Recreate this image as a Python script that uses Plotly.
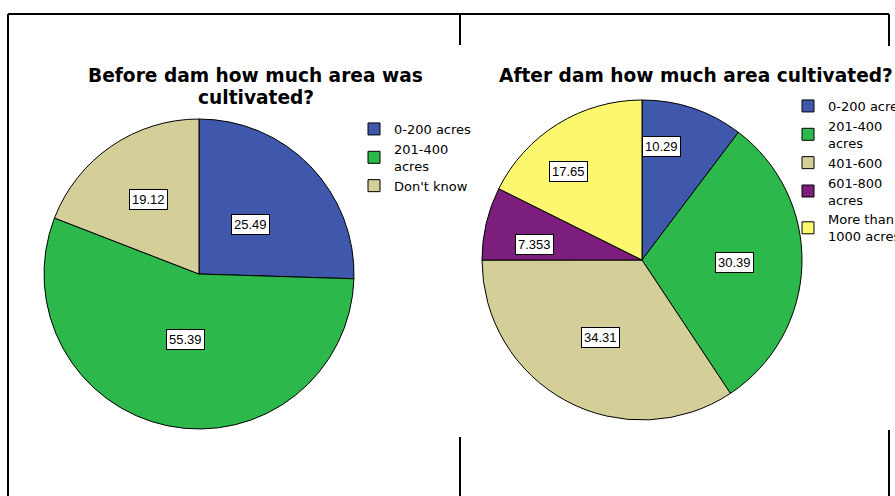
import math
import plotly.graph_objects as go

# ---- data ----
before_labels = ["0-200 acres", "201-400<br>acres", "Don't know"]
before_values = [25.49, 55.39, 19.12]
before_text = ["25.49", "55.39", "19.12"]

after_labels = ["0-200 acres", "201-400<br>acres", "401-600", "601-800<br>acres", "More than<br>1000 acres"]
after_values = [10.29, 30.39, 34.31, 7.353, 17.65]
after_text = ["10.29", "30.39", "34.31", "7.353", "17.65"]

before_title_lines = ["Before dam how much area was", "cultivated?"]
after_title_lines = ["After dam how much area cultivated?"]

# ---- style ----
W, H = 895, 496
C_BLUE = "#3F58AB"
C_GREEN = "#2DB84B"
C_TAN = "#D4CF98"
C_PURPLE = "#7C1F7C"
C_YELLOW = "#FBF86F"
before_colors = [C_BLUE, C_GREEN, C_TAN]
after_colors = [C_BLUE, C_GREEN, C_TAN, C_PURPLE, C_YELLOW]
FONT = "Liberation Sans, Arial, sans-serif"
WIDE_FONT = "DejaVu Sans, sans-serif"


def fx(px):
    return px / W


def fy(py):
    return 1 - py / H


# pie geometry (screen pixels): centre and radius
P1 = dict(cx=199, cy=274, r=155)
P2 = dict(cx=642, cy=260, r=160)
# value-box placement: radius fraction and angular nudge (degrees) from slice mid-angle
before_label_r = [0.46, 0.43, 0.58]
before_label_turn = [0, 0, 0]
after_label_r = [0.72, 0.58, 0.55, 0.68, 0.72]
after_label_turn = [-9, 0, 0, -5, -8]


def domain(p):
    return dict(x=[fx(p["cx"] - p["r"]), fx(p["cx"] + p["r"])],
                y=[fy(p["cy"] + p["r"]), fy(p["cy"] - p["r"])])


def value_boxes(p, values, texts, fracs, turns):
    total = sum(values)
    anns = []
    cum = 0.0
    for v, t, f, d in zip(values, texts, fracs, turns):
        th = 2 * math.pi * (cum + v / 2) / total + math.radians(d)
        cum += v
        px = p["cx"] + f * p["r"] * math.sin(th)
        py = p["cy"] - f * p["r"] * math.cos(th)
        anns.append(dict(x=fx(px), y=fy(py), xref="paper", yref="paper",
                         xanchor="center", yanchor="middle",
                         text=t, showarrow=False,
                         font=dict(family=FONT, size=13, color="black"),
                         bgcolor="white", bordercolor="black", borderwidth=1,
                         borderpad=2))
    return anns


# pie legend entries are shared by label across pies; a zero-width mark keeps
# the second legend's entries separate
after_legend_labels = [lab + "\u200b" for lab in after_labels]

fig = go.Figure()
fig.add_trace(go.Pie(labels=before_labels, values=before_values, sort=False,
                     direction="clockwise", rotation=0, textinfo="none",
                     marker=dict(colors=before_colors, line=dict(color="black", width=1)),
                     domain=domain(P1), legend="legend", hoverinfo="label+value"))
fig.add_trace(go.Pie(labels=after_legend_labels, values=after_values, sort=False,
                     direction="clockwise", rotation=0, textinfo="none",
                     marker=dict(colors=after_colors, line=dict(color="black", width=1)),
                     domain=domain(P2), legend="legend2", hoverinfo="label+value"))

anns = value_boxes(P1, before_values, before_text, before_label_r, before_label_turn)
anns += value_boxes(P2, after_values, after_text, after_label_r, after_label_turn)
title_font = dict(family=WIDE_FONT, size=18.6, color="black")
for i, t in enumerate(before_title_lines):
    anns.append(dict(x=fx(256), y=fy(75 + 23 * i), xref="paper", yref="paper", text="<b>" + t + "</b>",
                     showarrow=False, font=title_font, xanchor="center", yanchor="middle"))
for i, t in enumerate(after_title_lines):
    anns.append(dict(x=fx(696), y=fy(75 + 23 * i), xref="paper", yref="paper", text="<b>" + t + "</b>",
                     showarrow=False, font=title_font, xanchor="center", yanchor="middle"))

line = dict(color="black", width=2)
segments = [  # (x0, y0, x1, y1) in screen pixels
    (8, 14, 889, 14),
    (8, 14, 8, 496),
    (460, 14, 460, 45),
    (460, 437, 460, 496),
    (889, 14, 889, 46),
    (889, 430, 889, 496),
]
shapes = [dict(type="line", xref="paper", yref="paper", x0=fx(a), y0=fy(b), x1=fx(c), y1=fy(d),
               line=line) for a, b, c, d in segments]

leg_font = dict(family=WIDE_FONT, size=13, color="black")
fig.update_layout(
    width=W, height=H, margin=dict(l=0, r=0, t=0, b=0, autoexpand=False),
    paper_bgcolor="white", plot_bgcolor="white",
    annotations=anns, shapes=shapes,
    legend=dict(x=fx(354), y=fy(114), xanchor="left", yanchor="top", font=leg_font,
                bgcolor="rgba(0,0,0,0)", tracegroupgap=0),
    legend2=dict(x=fx(788), y=fy(91), xanchor="left", yanchor="top", font=leg_font,
                 bgcolor="rgba(0,0,0,0)", tracegroupgap=0),
)

fig.write_html("out.html", config={"displayModeBar": False},
               post_script="document.body.style.margin='0';document.body.style.overflow='hidden';")
